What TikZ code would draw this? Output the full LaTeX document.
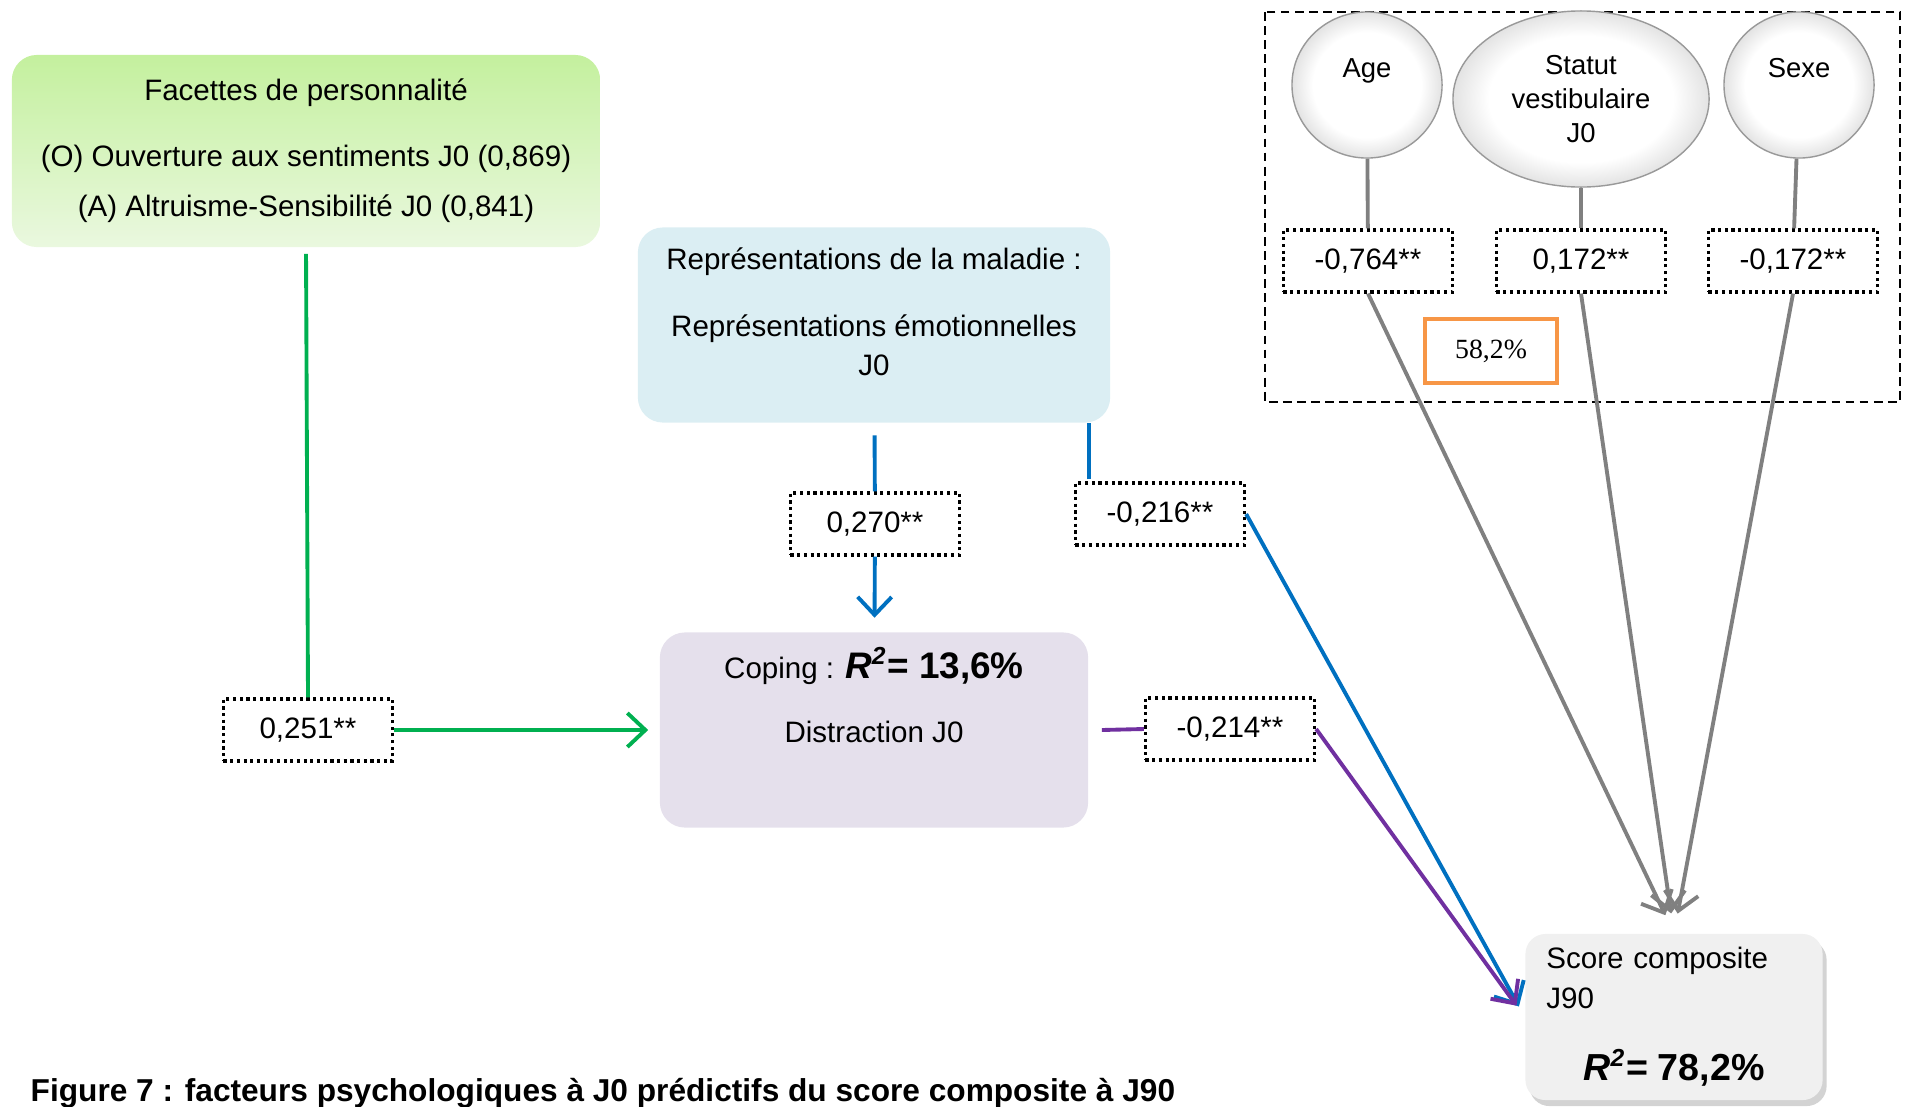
\documentclass[tikz,border=0pt]{standalone}
\usepackage{fontspec}
\setmainfont{Liberation Sans}
\newfontfamily\timesf{Liberation Serif}
\usetikzlibrary{arrows.meta,positioning,shapes.geometric,shadows,calc}
\definecolor{grnl}{HTML}{00B050}
\definecolor{grntop}{HTML}{C4F09E}
\definecolor{grnbot}{HTML}{EAF8DF}
\definecolor{bluel}{HTML}{0070C0}
\definecolor{bluebg}{HTML}{DBEEF3}
\definecolor{purpl}{HTML}{7030A0}
\definecolor{purpbg}{HTML}{E5E0EC}
\definecolor{greyl}{HTML}{808080}
\definecolor{scorebg}{HTML}{F0F0F0}
\definecolor{orng}{HTML}{F79646}
\pgfdeclareradialshading{rim}{\pgfpoint{0bp}{0bp}}{color(0bp)=(white); color(18bp)=(white); color(25bp)=(gray!22); color(50bp)=(gray!22)}
\newcommand\boxfont{\fontsize{8.4}{10}\selectfont}
\tikzset{
  coef/.style={draw,densely dotted,line width=0.9pt,minimum width=1.69cm,minimum height=0.62cm,inner sep=0pt,font=\boxfont},
  ln/.style={line width=1.1pt},
  ar/.style={ln,-{Straight Barb[length=1.8mm,width=3.4mm]}},
  var/.style={ellipse,draw=gray!80,thin,shading=rim,inner sep=0pt},
  zone/.style={rounded corners=0.25cm,align=center,inner sep=0pt}
}
\begin{document}
\begin{tikzpicture}[x=0.01cm,y=-0.01cm]
\useasboundingbox (0,0) rectangle (1910,1106);
\node[zone,top color=grntop,bottom color=grnbot,minimum width=5.88cm,minimum height=1.92cm,font=\fontsize{8.4}{14.2}\selectfont] (facettes) at (306,151) {Facettes de personnalité\\[4.6pt](O) Ouverture aux sentiments J0 (0,869)\\(A) Altruisme-Sensibilité J0 (0,841)};
\node[zone,fill=bluebg,minimum width=4.72cm,minimum height=1.95cm,font=\fontsize{8.4}{11.1}\selectfont] (repr) at (874,325) {Représentations de la maladie :\\[7.7pt]Représentations émotionnelles\\J0\\[-3.5pt]\mbox{}};
\node[zone,fill=purpbg,minimum width=4.28cm,minimum height=1.95cm,font=\fontsize{8.4}{18.2}\selectfont] (coping) at (874,730) {Coping : {\fontsize{10.5}{12}\selectfont\bfseries\itshape R\textsuperscript{\scriptsize 2}\upshape = 13,6\%}\\Distraction J0\\[2pt]\mbox{}};
\node[zone,rounded corners=0.2cm,fill=scorebg,drop shadow={shadow xshift=0.4mm,shadow yshift=-0.6mm,opacity=0.35},minimum width=2.97cm,minimum height=1.66cm,text width=2.55cm,align=left,font=\fontsize{8.4}{11.4}\selectfont] (score) at (1674,1017) {Score composite\\J90\\[9pt]\makebox[\linewidth]{\fontsize{10.7}{12}\selectfont\bfseries\itshape R\textsuperscript{\scriptsize 2}\upshape = 78,2\%}};

\draw[dashed,dash pattern=on 2.5pt off 1.5pt,line width=0.5pt] (1265,12) rectangle (1900,402);
\node[var,minimum width=1.50cm,minimum height=1.46cm,font=\fontsize{7.8}{9.7}\selectfont,text height=5.6pt,text depth=9.8pt] (age) at (1367,85) {Age};
\node[var,minimum width=2.56cm,minimum height=1.76cm,align=center,font=\fontsize{7.8}{9.7}\selectfont] (statut) at (1581,99) {Statut\\vestibulaire\\J0};
\node[var,minimum width=1.50cm,minimum height=1.46cm,font=\fontsize{7.8}{9.7}\selectfont,text height=5.6pt,text depth=9.8pt] (sexe) at (1799,85) {Sexe};
\node[coef] (cAge) at (1368,261) {-0,764**};
\node[coef] (cStat) at (1581,261) {0,172**};
\node[coef] (cSexe) at (1793,261) {-0,172**};
\node[draw=orng,line width=1.1pt,minimum width=1.32cm,minimum height=0.64cm,font=\timesf\fontsize{7.9}{9}\selectfont] (part) at (1491,351) {58,2\%};

\node[coef] (c251) at (308,730) {0,251**};
\node[coef] (c270) at (875,524) {0,270**};
\node[coef] (c216) at (1160,514) {-0,216**};
\node[coef] (c214) at (1230,729) {-0,214**};

\draw[ln,grnl,shorten <=0.06cm] (facettes.south) -- (c251.north);
\draw[ar,grnl,shorten >=0.11cm] (c251) -- (coping);
\draw[ln,bluel,shorten <=0.12cm] (repr) -- (c270);
\draw[ar,bluel,shorten >=0.14cm] (c270) -- (coping);
\draw[ln,bluel,shorten <=0.02cm] ([xshift=-0.71cm]c216.north) -- ([xshift=-0.71cm]c216.north |- repr.south);
\draw[ar,bluel,shorten >=0.12cm] (c216.east) -- (score.west);
\draw[ln,purpl] ([xshift=0.13cm]coping.east) -- (c214.west);
\draw[ar,purpl,shorten >=0.14cm] (c214.east) -- (score.west);
\draw[ln,greyl] (age) -- (cAge);
\draw[ln,greyl] (statut) -- (cStat);
\draw[ln,greyl] (sexe) -- (cSexe);
\draw[ar,greyl,shorten >=0.2cm] (cAge.south) -- (score.north);
\draw[ar,greyl,shorten >=0.2cm] (cStat.south) -- (score.north);
\draw[ar,greyl,shorten >=0.2cm] (cSexe.south) -- (score.north);

\node[anchor=base west,inner sep=0pt,font=\bfseries\fontsize{9}{11}\selectfont] (caption) at (30,1101) {Figure 7 : facteurs psychologiques à J0 prédictifs du score composite à J90};
\end{tikzpicture}
\end{document}
